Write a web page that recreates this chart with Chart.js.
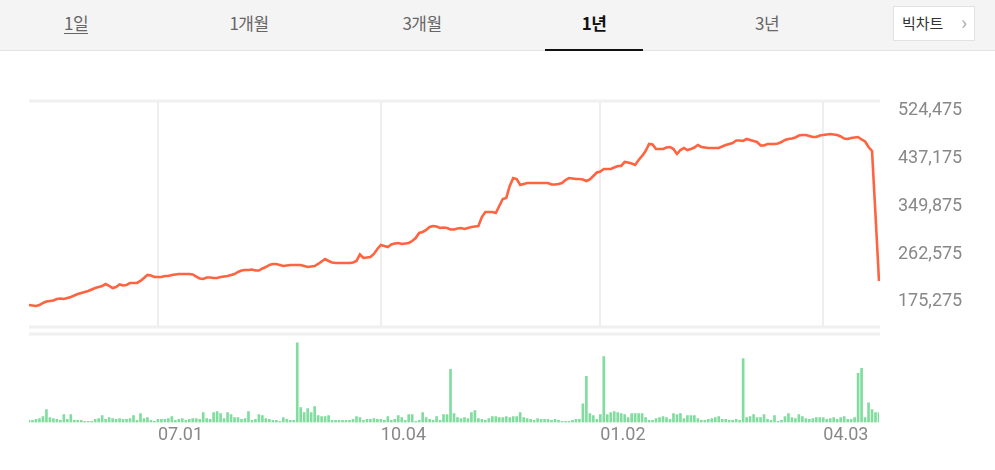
<!DOCTYPE html>
<html lang="ko"><head><meta charset="utf-8">
<script src="https://cdn.jsdelivr.net/npm/chart.js@4.4.1/dist/chart.umd.min.js"></script>
<style>
html,body{margin:0;padding:0;background:#fff;}
body{width:995px;height:470px;position:relative;overflow:hidden;font-family:"Noto Sans CJK KR","Noto Sans",sans-serif;}
#tabs{position:absolute;left:0;top:0;width:995px;height:50px;background:#f4f4f4;border-bottom:1px solid #e4e4e4;}
.tab{position:absolute;top:11px;font-size:17px;line-height:24px;color:#666;transform:translateX(-50%);white-space:nowrap;letter-spacing:-0.5px;}
.tab.u{text-decoration:underline;text-underline-offset:3px;}
.tab.on{color:#111;font-weight:bold;}
#bar{position:absolute;left:545px;top:49px;width:98px;height:2px;background:#111;}
#big{position:absolute;left:893px;top:6px;width:82px;height:35px;background:#fff;border:1px solid #e2e2e2;box-sizing:border-box;font-size:15px;color:#333;line-height:32px;padding-left:8px;}
#big span{position:absolute;right:7px;top:-1px;color:#aaa;font-size:20px;}
#p{position:absolute;left:0;top:90px;}
#v{position:absolute;left:0;top:330px;}
</style></head>
<body>
<div id="tabs">
  <div class="tab u" style="left:76px">1일</div>
  <div class="tab" style="left:249px">1개월</div>
  <div class="tab" style="left:422px">3개월</div>
  <div class="tab on" style="left:594px">1년</div>
  <div class="tab" style="left:767px">3년</div>
  <div id="bar"></div>
  <div id="big">빅차트<span>›</span></div>
</div>
<canvas id="p" width="995" height="245"></canvas>
<canvas id="v" width="995" height="130"></canvas>
<script>
const prices = [166100,165200,164300,166100,169800,172500,173400,174400,177100,178000,
177100,178900,180800,183500,186200,188100,189900,191700,194500,197200,
199000,200900,204500,200900,197200,199000,203600,201800,202700,206400,
206400,206400,210000,215500,221000,220100,217300,217300,217300,219200,
219200,221000,221900,222800,222800,222800,222800,221900,218200,214600,
213700,216400,216400,215500,215500,217300,218200,219200,221000,222800,
226500,229200,230100,230100,231000,229200,229200,232900,235600,239300,
241100,241100,239300,237400,238400,239300,239300,239300,239300,237400,
235600,236500,237400,241100,245700,250200,246600,243800,242900,242900,
242900,242900,242900,243800,246600,258500,252100,253000,253900,259400,
268500,275800,274000,272200,276700,278600,279500,277700,278600,279500,
283100,288600,297800,299600,303300,308700,310600,309700,306900,307800,
306900,304200,304200,306000,306900,305100,306900,308700,309700,310600,
327000,336200,336200,336200,334300,347100,359900,361800,383700,398300,
396500,385500,387400,389200,389200,389200,389200,389200,389200,389200,
386400,386400,387400,389200,394700,398300,397400,396500,396500,395600,
392800,395600,402000,408400,410200,414800,414800,414800,417500,420300,
420300,427600,426700,424800,422100,431200,438600,447700,460500,459600,
451300,451300,451300,454100,455000,451300,442200,449500,453200,449500,
451300,454100,458700,455000,454100,453200,453200,453200,453200,455900,
458700,460500,462300,466900,466900,466000,469600,467800,466000,464100,
457700,457700,460500,460500,460500,461400,464100,467800,469600,470500,
472400,476000,476900,476900,475100,473300,473300,476000,476900,477900,
478800,477900,476900,474200,470500,469600,471500,472400,473300,468700,
465100,455000,447700,330700,210000];

const volumes = [2000,2000,3000,4000,6000,13000,5000,4000,3000,2000,
8000,3000,8000,2000,2000,2000,1000,1000,1000,3000,
4000,7000,3000,5000,4000,3000,4000,3000,3000,4000,
7000,2000,9000,4000,5000,2000,1000,3000,3000,3000,
4000,6000,2000,3000,4000,2000,3000,4000,4000,3000,
10000,4000,3000,10000,11000,9000,4000,10000,8000,5000,
5000,3000,4000,11000,2000,3000,8000,7000,4000,3000,
2000,2000,1000,5000,3000,2000,2000,81000,15000,10000,
14000,10000,16000,7000,6000,6000,7000,2000,2000,2000,
2000,2000,2000,3000,6000,5000,2000,3000,3000,4000,
3000,3000,2000,6000,2000,3000,7000,5000,2000,8000,
8000,1000,2000,10000,5000,3000,2000,6000,2000,8000,
8000,54000,9000,5000,4000,5000,4000,10000,12000,4000,
3000,2000,4000,6000,6000,5000,5000,6000,5000,6000,
6000,10000,5000,4000,3000,2000,4000,3000,3000,3000,
2000,3000,2000,1000,1000,1000,2000,3000,3000,19000,
47000,9000,7000,3000,8000,67000,8000,10000,11000,10000,
9000,8000,5000,9000,9000,9000,9000,5000,2000,2000,
4000,5000,6000,5000,3000,9000,8000,9000,4000,7000,
7000,7000,4000,2000,2000,3000,4000,5000,6000,3000,
3000,2000,2000,3000,2000,65000,5000,6000,8000,5000,
5000,8000,3000,2000,7000,1000,2000,6000,9000,5000,
4000,8000,6000,4000,3000,4000,5000,5000,5000,3000,
4000,5000,3000,5000,6000,3000,3000,5000,50000,55000,
5000,20000,13000,10000,10000];

const categories = prices.map((_, i) => i);
const tickIdx = [37, 101, 164, 228];
const tickLabels = ['07.01', '10.04', '01.02', '04.03'];
const priceTicks = [175275, 262575, 349875, 437175, 524475];

const bands = {
  id: 'bands',
  beforeDatasetsDraw(chart, args, opts) {
    const {ctx, chartArea: a} = chart;
    ctx.save();
    ctx.fillStyle = '#f0f0f0';
    (opts.edges || []).forEach(e => {
      const y = e === 'top' ? a.top : a.bottom;
      ctx.fillRect(a.left, y - 1.5, a.right - a.left + 1, 3);
    });
    ctx.restore();
  }
};

const fmt = v => v.toString().replace(/\B(?=(\d{3})+(?!\d))/g, ',');

new Chart(document.getElementById('p'), {
  type: 'line',
  data: { labels: categories, datasets: [{ data: prices, borderColor: '#ff6340', borderWidth: 2.6, pointRadius: 0, tension: 0, fill: false }] },
  options: {
    responsive: false, devicePixelRatio: 1, animation: false,
    layout: { padding: { left: 29, top: 11, bottom: 8, right: 0 } },
    plugins: { legend: { display: false }, tooltip: { enabled: false }, bands: { edges: ['top', 'bottom'] } },
    scales: {
      x: {
        offset: false,
        ticks: { display: false, autoSkip: false },
        grid: { drawTicks: false, lineWidth: 2, color: c => tickIdx.includes(c.index) ? '#eeeeee' : 'rgba(0,0,0,0)' },
        border: { display: false }
      },
      y: {
        position: 'right', min: 125900, max: 539100,
        afterBuildTicks: s => { s.ticks = priceTicks.map(v => ({ value: v })); },
        afterFit: s => { s.width = 116; s.paddingTop = 0; s.paddingBottom = 0; },
        ticks: { padding: 19, labelOffset: 2, color: '#888', font: { family: 'Roboto', size: 18 }, callback: v => fmt(v) },
        grid: { display: false, drawTicks: false },
        border: { display: false }
      }
    }
  },
  plugins: [bands]
});

new Chart(document.getElementById('v'), {
  type: 'bar',
  data: { labels: categories, datasets: [{ data: volumes, backgroundColor: '#80dd9e', barThickness: 2 }] },
  options: {
    responsive: false, devicePixelRatio: 1, animation: false,
    layout: { padding: { left: 29, top: 4, bottom: 12, right: 116 } },
    plugins: { legend: { display: false }, tooltip: { enabled: false }, bands: { edges: ['top'] } },
    scales: {
      x: {
        offset: false,
        ticks: { autoSkip: false, maxRotation: 0, align: 'start', padding: 2, color: '#888', font: { family: 'Roboto', size: 18 },
          callback: (v, i) => { const k = tickIdx.indexOf(i); return k >= 0 ? tickLabels[k] : ''; } },
        grid: { display: false, drawTicks: false },
        border: { display: false }
      },
      y: { display: false, min: 0, max: 90000 }
    }
  },
  plugins: [bands]
});
</script>
</body></html>
